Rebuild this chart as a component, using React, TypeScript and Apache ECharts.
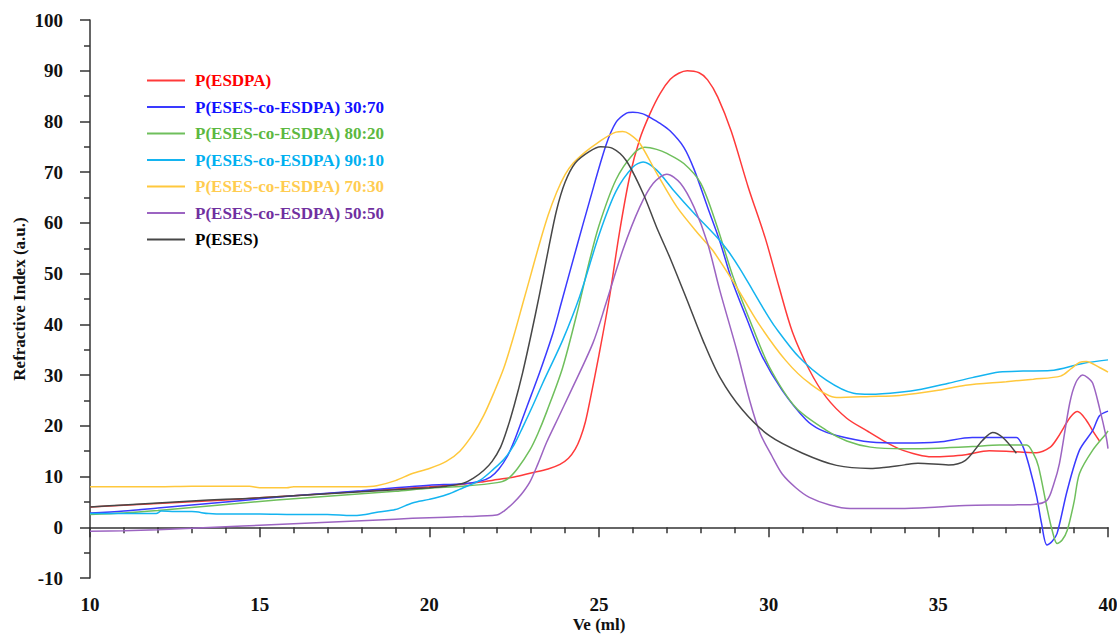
import React, { useEffect, useRef } from "react";
import * as echarts from "echarts";

const seriesNames = [
  "P(ESDPA)",
  "P(ESES-co-ESDPA) 30:70",
  "P(ESES-co-ESDPA) 80:20",
  "P(ESES-co-ESDPA) 90:10",
  "P(ESES-co-ESDPA) 70:30",
  "P(ESES-co-ESDPA) 50:50",
  "P(ESES)",
];

const lineColors = ["#ff3a3a", "#3a3aff", "#6fbf5c", "#14b4f0", "#ffc83c", "#9c64c2", "#474747"];
const textColors = ["#ff0000", "#1010ff", "#5cb840", "#00b0f0", "#ffcc50", "#7030a0", "#000000"];

const xTicks = [10, 15, 20, 25, 30, 35, 40];
const yTicks = [-10, 0, 10, 20, 30, 40, 50, 60, 70, 80, 90, 100];

const redData = [
  [10, 4], [12, 4.7], [14, 5.4], [15, 5.8], [16, 6.2], [18, 7.1], [20, 8], [21, 8.5], [21.5, 8.9], [22, 9.4],
  [22.5, 9.9], [23, 10.7], [23.5, 11.5], [23.85, 12.4], [24.1, 13.6], [24.3, 15.4], [24.45, 17.6], [24.6, 20.8],
  [24.75, 25.5], [25, 34], [25.3, 45], [25.6, 58], [25.9, 69], [26.2, 76.5], [26.5, 81.5], [26.8, 85.5],
  [27.1, 88.3], [27.35, 89.5], [27.6, 90], [27.95, 89.6], [28.2, 88.2], [28.5, 84.8], [28.9, 78], [29.4, 67],
  [29.9, 57], [30.3, 47.5], [30.7, 38.5], [31.2, 31], [31.7, 25.6], [32.3, 21.5], [32.9, 19], [33.4, 17],
  [33.9, 15.3], [34.4, 14.3], [34.8, 13.9], [35.3, 14], [35.8, 14.3], [36.5, 15.1], [37, 15], [37.5, 14.8],
  [37.9, 14.7], [38.3, 15.8], [38.5, 17.5], [38.7, 19.7], [38.9, 21.8], [39.1, 22.8], [39.35, 21.2],
  [39.55, 19], [39.75, 17],
];

const blueData = [
  [10, 2.8], [11, 3.2], [12, 3.8], [13, 4.4], [14, 5], [15, 5.6], [16, 6.2], [17, 6.7], [18, 7.2], [19, 7.8],
  [20, 8.3], [21, 8.6], [21.5, 9.1], [21.8, 9.9], [22.05, 11.5], [22.3, 14], [22.5, 17], [22.75, 21.5],
  [23, 26], [23.25, 30.5], [23.64, 38.2], [23.9, 44.5], [24.34, 55.2], [24.73, 64.5], [25.2, 75.2], [25.5, 79.8],
  [25.8, 81.6], [26, 81.8], [26.3, 81.5], [26.5, 80.8], [26.8, 79.6], [27.1, 78.1], [27.5, 74.9], [27.8, 70.6],
  [28.2, 63.1], [28.56, 56.4], [28.9, 49], [29.35, 41.2], [29.8, 33.8], [30.4, 27], [31.1, 21.2], [31.5, 19.3],
  [32, 18.1], [33, 16.8], [34, 16.6], [35, 16.8], [36, 17.7], [37, 17.7], [37.3, 17.7], [37.5, 15.8],
  [37.7, 11.5], [37.9, 6], [38.04, 0.8], [38.2, -3.5], [38.35, -2.8], [38.5, -1.2], [38.8, 7.3], [39.16, 15.2],
  [39.55, 19.1], [39.75, 22], [40, 22.9],
];

const greenData = [
  [10, 2.5], [11, 2.8], [12, 3.3], [13, 3.9], [14, 4.5], [15, 5.1], [16, 5.6], [17, 6.1], [18, 6.6], [19, 7.1],
  [20, 7.7], [21, 8.1], [22, 8.8], [22.3, 9.5], [22.6, 11.6], [22.96, 15.2], [23.2, 18.5], [23.46, 22.8],
  [23.93, 31.5], [24.4, 43.5], [24.7, 52], [25, 59.5], [25.5, 68.5], [26, 73.5], [26.35, 74.9], [26.7, 74.5],
  [27, 73.7], [27.5, 71.7], [28, 67.8], [28.47, 59.5], [28.94, 49.6], [29.53, 39.4], [30.03, 31.5],
  [30.8, 23.6], [31.7, 19.1], [32.3, 17], [33, 15.8], [34, 15.5], [35, 15.6], [36, 15.9], [36.8, 16.2],
  [37.6, 16.2], [37.8, 14.5], [37.95, 12], [38.2, 3.9], [38.35, -0.5], [38.5, -3.2], [38.65, -2.5],
  [38.8, -0.6], [39, 5], [39.16, 10.6], [39.55, 15.2], [39.95, 18.5], [40, 19],
];

const cyanData = [
  [10, 2.7], [11, 2.7], [11.95, 2.7], [12.1, 3.2], [12.5, 3.1], [13, 3.1], [13.5, 2.7], [14, 2.6], [15, 2.6],
  [16, 2.5], [17, 2.5], [17.7, 2.3], [18, 2.4], [18.5, 3], [19, 3.5], [19.5, 4.8], [20, 5.5], [20.5, 6.4],
  [21, 7.8], [21.5, 9.3], [21.9, 11.5], [22.2, 13.4], [22.5, 16.3], [22.75, 19.7], [23.05, 24], [23.34, 28.4],
  [23.93, 36.9], [24.43, 45.5], [25.02, 58], [25.5, 66.2], [26, 71], [26.3, 72], [26.7, 70.4], [27.2, 66.4],
  [27.8, 61.9], [28.47, 57.2], [28.8, 54.5], [29.15, 51], [29.53, 46.7], [29.9, 42.5], [30.2, 39.4],
  [30.9, 33.5], [31.7, 29], [32.5, 26.4], [33, 26.2], [33.86, 26.6], [34.5, 27.2], [35.3, 28.4], [36, 29.5],
  [36.8, 30.6], [37.5, 30.8], [38.3, 30.9], [39.25, 32.3], [40, 33],
];

const yellowData = [
  [10, 8], [11, 8], [12, 8], [13, 8.1], [14, 8.1], [14.7, 8.1], [15, 7.8], [15.8, 7.8], [16, 8], [17, 8],
  [18, 8], [18.45, 8.2], [19, 9.2], [19.5, 10.6], [20, 11.6], [20.5, 13], [20.9, 15], [21.3, 18.5],
  [21.6, 22], [21.9, 26.5], [22.2, 31.5], [22.5, 38], [22.75, 44], [23, 50], [23.25, 56], [23.5, 61.5],
  [23.75, 66], [24, 69.5], [24.23, 71.7], [24.6, 74], [24.94, 75.7], [25.5, 77.9], [25.7, 78], [25.9, 77.5],
  [26.2, 75.7], [26.7, 69.8], [27.3, 63.1], [27.97, 57.5], [28.35, 54.6], [29.06, 47.3], [29.7, 40.2],
  [30.5, 32.9], [31.2, 28.4], [32, 25.6], [33, 25.8], [33.86, 26], [35, 27], [35.8, 28], [37, 28.7],
  [37.8, 29.2], [38.6, 29.8], [38.9, 31.2], [39.16, 32.5], [39.36, 32.7], [39.75, 31.5], [40, 30.6],
];

const purpleData = [
  [10, -0.8], [11, -0.7], [12, -0.5], [13, -0.2], [14, 0.1], [15, 0.4], [16, 0.7], [17, 1], [18, 1.3],
  [19, 1.6], [20, 1.9], [21, 2.1], [21.98, 2.4], [22.2, 3.2], [22.46, 4.7], [22.7, 6.4], [22.96, 8.9],
  [23.2, 12.5], [23.46, 16.8], [23.8, 21.6], [24.14, 26.4], [24.82, 36.3], [25.2, 44], [25.7, 54.6],
  [26.2, 63.1], [26.6, 67.8], [27, 69.6], [27.4, 67.8], [27.8, 63.1], [28.2, 56], [28.56, 46.7],
  [29.06, 34.9], [29.44, 25], [29.75, 18.5], [30.1, 14], [30.4, 10.5], [30.8, 7.8], [31.2, 5.9], [31.8, 4.4],
  [32.4, 3.7], [33.86, 3.7], [35, 4], [35.8, 4.3], [37, 4.4], [37.8, 4.5], [38.2, 5.3], [38.4, 8.5],
  [38.57, 12.6], [38.87, 24.4], [39.05, 28.5], [39.25, 30], [39.4, 29.5], [39.55, 28.4], [39.75, 23.5],
  [39.95, 17.7], [40, 15.5],
];

const blackData = [
  [10, 4], [11, 4.4], [12, 4.8], [13, 5.2], [14, 5.5], [15, 5.8], [16, 6.2], [17, 6.6], [18, 7], [19, 7.4],
  [20, 7.8], [20.5, 8.1], [21, 8.7], [21.3, 9.7], [21.6, 11.2], [21.85, 13], [22.1, 15.8], [22.3, 19.5],
  [22.5, 24], [22.75, 30.5], [23, 38], [23.25, 46], [23.5, 54.5], [23.75, 62.5], [24, 68], [24.3, 71.8],
  [24.7, 74], [25.05, 75], [25.4, 74.7], [25.8, 72.3], [26.3, 65.8], [26.7, 59.1], [27.1, 53], [27.6, 44.7],
  [28.06, 36.9], [28.56, 29.6], [29.23, 23.1], [30.03, 18], [31, 14.6], [32, 12.2], [33, 11.6], [33.4, 11.8],
  [34, 12.3], [34.4, 12.6], [35.3, 12.3], [35.8, 13.2], [36.3, 17.1], [36.6, 18.7], [36.9, 17.7], [37.3, 14.6],
];

const allData = [redData, blueData, greenData, cyanData, yellowData, purpleData, blackData];

const FONT = "'Liberation Serif', 'Times New Roman', serif";

export default function App() {
  const ref = useRef<HTMLDivElement>(null);

  useEffect(() => {
    if (!ref.current) return;
    const chart = echarts.init(ref.current, undefined, { renderer: "svg" });
    const option = {
      animation: false,
      backgroundColor: "#ffffff",
      grid: { left: 90, right: 9, top: 20, bottom: 57, containLabel: false, outerBoundsMode: "none" },
      legend: {
        orient: "vertical",
        left: 142,
        top: 67,
        icon: "rect",
        itemWidth: 38,
        itemHeight: 2,
        itemGap: 9.5,
        textStyle: { fontFamily: FONT, fontWeight: "bold", fontSize: 17, padding: [0, 0, 0, 5] },
        data: seriesNames.map((n, i) => ({
          name: n,
          itemStyle: { color: lineColors[i] },
          textStyle: { color: textColors[i] },
        })),
      },
      xAxis: {
        type: "value",
        min: xTicks[0],
        max: xTicks[xTicks.length - 1],
        interval: 5,
        name: "Ve (ml)",
        nameLocation: "middle",
        nameMoveOverlap: false,
        nameGap: 38,
        nameTextStyle: { fontFamily: FONT, fontWeight: "bold", fontSize: 17, color: "#111" },
        axisLine: { show: true, lineStyle: { color: "#333", width: 1.5 } },
        axisTick: { show: true, length: 10, lineStyle: { color: "#333", width: 1.5 } },
        minorTick: { show: true, splitNumber: 5, length: 6, lineStyle: { color: "#333", width: 1.5 } },
        splitLine: { show: false },
        axisLabel: { fontFamily: FONT, fontWeight: "bold", fontSize: 19, color: "#111", margin: 17 },
      },
      yAxis: {
        type: "value",
        min: yTicks[0],
        max: yTicks[yTicks.length - 1],
        interval: 10,
        name: "Refractive Index (a.u.)",
        nameLocation: "middle",
        nameMoveOverlap: false,
        nameGap: 62,
        nameTextStyle: { fontFamily: FONT, fontWeight: "bold", fontSize: 17, color: "#111" },
        axisLine: { show: true, lineStyle: { color: "#333", width: 1.5 } },
        axisTick: { show: true, length: 10, lineStyle: { color: "#333", width: 1.5 } },
        minorTick: { show: true, splitNumber: 2, length: 6, lineStyle: { color: "#333", width: 1.5 } },
        splitLine: { show: false },
        axisLabel: { fontFamily: FONT, fontWeight: "bold", fontSize: 19, color: "#111", margin: 27 },
      },
      series: seriesNames.map((n, i) => ({
        name: n,
        type: "line",
        data: allData[i],
        symbol: "none",
        smooth: 0.3,
        lineStyle: { color: lineColors[i], width: 1.5 },
        itemStyle: { color: lineColors[i] },
      })),
    };
    chart.setOption(option as any);
    return () => chart.dispose();
  }, []);

  return (
    <div
      ref={ref}
      style={{ position: "fixed", left: 0, top: 0, width: 1117, height: 635, background: "#fff" }}
    />
  );
}
